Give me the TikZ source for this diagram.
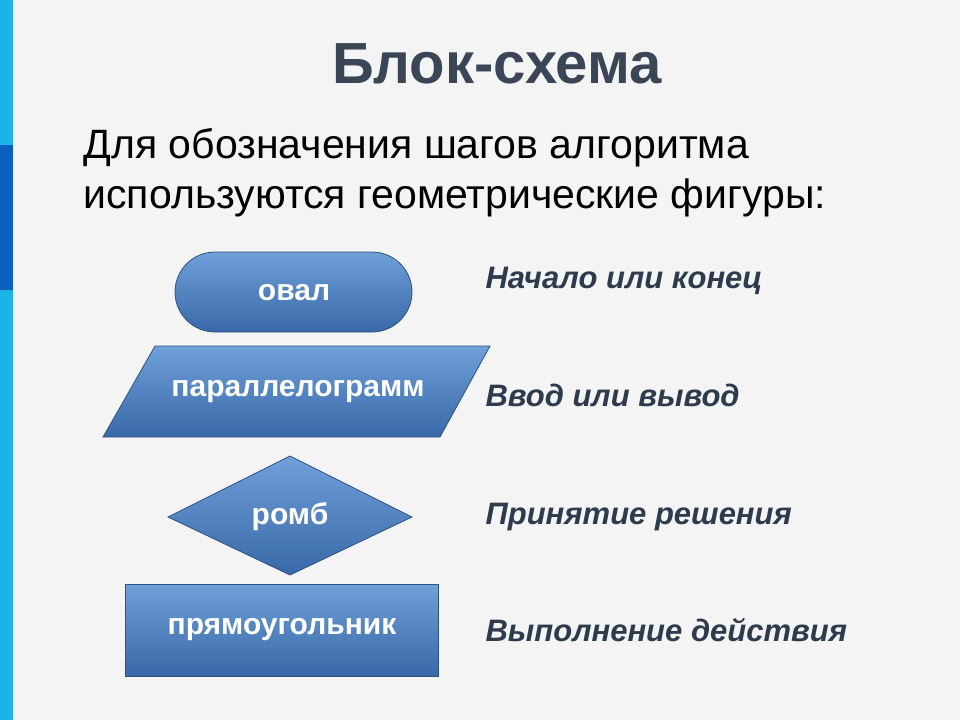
\documentclass[tikz,border=0pt]{standalone}
\usepackage{fontspec}
\setmainfont{Liberation Sans}
\definecolor{bg}{HTML}{F4F4F4}
\definecolor{lb}{HTML}{1AB4E8}
\definecolor{db}{HTML}{0A5FBF}
\definecolor{shtop}{HTML}{6FA0D8}
\definecolor{shbot}{HTML}{3868A8}
\definecolor{lbl}{HTML}{2E3B4E}
\definecolor{ttl}{HTML}{3A4656}
\begin{document}
\begin{tikzpicture}[x=1pt,y=-1pt,
  shp/.style={top color=shtop,bottom color=shbot,draw=shbot!80!black,line width=0.8pt},
  stxt/.style={text=white,font=\bfseries\fontsize{30}{32}\selectfont},
  lab/.style={anchor=west,text=lbl,font=\bfseries\itshape\fontsize{31}{34}\selectfont}]
\useasboundingbox (0,0) rectangle (960,720);
\fill[bg] (0,0) rectangle (960,720);
\fill[lb] (0,0) rectangle (13,720);
\fill[db] (0,145) rectangle (13,290);
\node (title) at (497,64) {\textcolor{ttl}{\bfseries\fontsize{58}{62}\selectfont Блок-схема}};
\node[anchor=west,font=\fontsize{41}{44}\selectfont] (l1) at (80,148) {Для обозначения шагов алгоритма};
\node[anchor=west,font=\fontsize{41}{44}\selectfont] (l2) at (80,198) {используются геометрические фигуры:};
\draw[shp,rounded corners=40pt] (175,252) rectangle (412,332);
\node[stxt] (oval) at (294,293) {овал};
\draw[shp] (155,346) -- (490,346) -- (440,437) -- (103,437) -- cycle;
\node[stxt] (par) at (298,392) {параллелограмм};
\draw[shp] (168,517) -- (290,456) -- (412,517) -- (290,575) -- cycle;
\node[stxt] (romb) at (290,517) {ромб};
\draw[shp] (125,584) rectangle (438,676);
\node[stxt] (rect) at (282,630) {прямоугольник};
\node[lab] (t1) at (482,281) {Начало или конец};
\node[lab] (t2) at (482,395) {Ввод или вывод};
\node[lab] (t3) at (482,517) {Принятие решения};
\node[lab] (t4) at (482,630) {Выполнение действия};
\end{tikzpicture}
\end{document}
